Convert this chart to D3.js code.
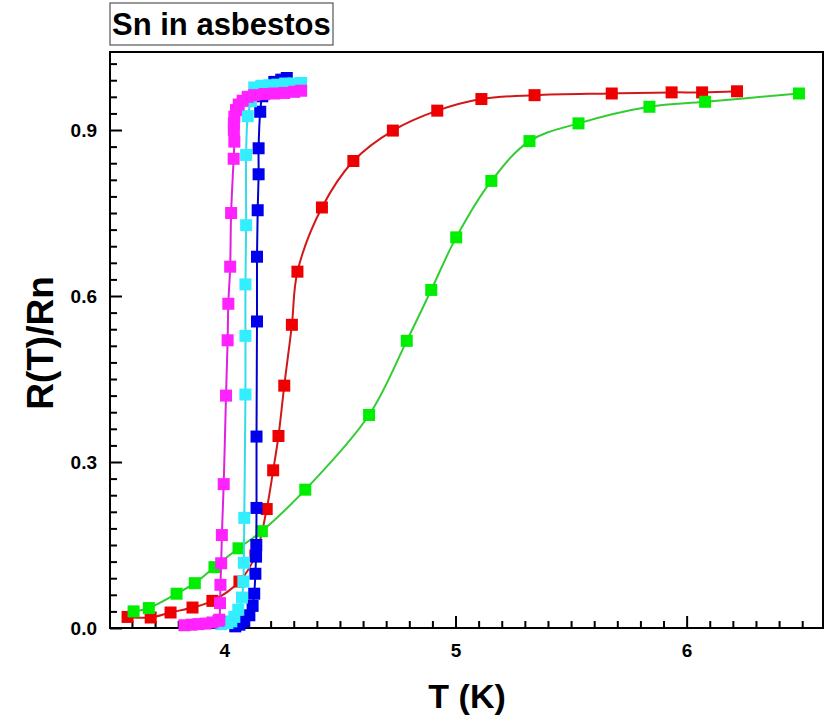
<!DOCTYPE html>
<html>
<head>
<meta charset="utf-8">
<script src="https://cdn.jsdelivr.net/npm/d3@7"></script>
<style>
  body { margin: 0; background: #fff; }
  svg text { font-family: "Liberation Sans", Arial, sans-serif; font-weight: bold; }
</style>
</head>
<body>
<svg id="chart" width="828" height="719"></svg>
<script>
// --- data: temperature (K) and R(T)/Rn per sample ---
const redT = [3.581,3.681,3.767,3.862,3.948,4.065,4.134,4.183,4.211,4.234,4.259,4.292,4.316,4.422,4.558,4.729,4.921,5.112,5.342,5.676,5.935,6.067,6.218];
const redR = [0.020,0.019,0.028,0.037,0.049,0.084,0.131,0.215,0.285,0.347,0.438,0.548,0.644,0.760,0.844,0.899,0.935,0.956,0.963,0.966,0.968,0.968,0.970];

const greenT = [3.607,3.673,3.793,3.872,3.957,4.061,4.162,4.350,4.626,4.789,4.895,5.003,5.155,5.320,5.532,5.839,6.080,6.486];
const greenR = [0.030,0.036,0.062,0.081,0.110,0.144,0.175,0.250,0.385,0.519,0.611,0.706,0.808,0.880,0.912,0.942,0.951,0.966];

const blueT = [4.047,4.065,4.086,4.108,4.122,4.129,4.134,4.137,4.138,4.139,4.139,4.141,4.141,4.144,4.148,4.148,4.155,4.164,4.186,4.216,4.246,4.270];
const blueR = [0.003,0.006,0.012,0.023,0.040,0.062,0.098,0.129,0.150,0.217,0.346,0.554,0.671,0.755,0.820,0.867,0.933,0.961,0.979,0.987,0.991,0.994];

const cyanT = [3.987,4.013,4.030,4.043,4.060,4.076,4.082,4.084,4.086,4.091,4.091,4.091,4.094,4.094,4.101,4.115,4.129,4.160,4.194,4.229,4.263,4.298,4.332];
const cyanR = [0.007,0.009,0.012,0.020,0.033,0.055,0.084,0.118,0.199,0.422,0.528,0.621,0.728,0.855,0.925,0.952,0.977,0.980,0.981,0.982,0.984,0.984,0.985];

const magentaT = [3.827,3.858,3.888,3.918,3.948,3.974,3.978,3.981,3.983,3.986,3.989,3.997,4.007,4.014,4.017,4.025,4.029,4.040,4.043,4.041,4.041,4.043,4.050,4.062,4.079,4.101,4.129,4.173,4.216,4.259,4.302,4.332];
const magentaR = [0.005,0.006,0.007,0.008,0.010,0.013,0.015,0.045,0.078,0.117,0.168,0.260,0.420,0.520,0.586,0.653,0.750,0.848,0.879,0.900,0.912,0.924,0.936,0.946,0.953,0.960,0.963,0.965,0.966,0.967,0.969,0.971];

const xMajorTicks = [4, 5, 6];
const yMajorTicks = [0, 0.3, 0.6, 0.9];
const yTickLabels = ["0.0", "0.3", "0.6", "0.9"];

const svg = d3.select("#chart");
const margin = {top: 52, right: 5, bottom: 91, left: 110},
      width = 828 - margin.left - margin.right,
      height = 719 - margin.top - margin.bottom;

const g = svg.append("g").attr("transform", `translate(${margin.left},${margin.top})`);

const x = d3.scaleLinear().domain([3.505, 6.59]).range([0, width]);
const y = d3.scaleLinear().domain([0, 1.041]).range([height, 0]);

// minor ticks every 0.1 K and every 0.03
const xMinor = d3.range(36, 66).map(d => d / 10).filter(d => !xMajorTicks.includes(d));
const yMinor = d3.range(1, 35).map(d => d * 0.03).filter(d => Math.abs(d - 0.3) > 1e-6 && Math.abs(d - 0.6) > 1e-6 && Math.abs(d - 0.9) > 1e-6);

g.append("g")
    .attr("transform", `translate(0,${height})`)
    .call(d3.axisBottom(x).tickValues(xMinor).tickSize(-7).tickFormat(""))
    .call(a => a.select(".domain").remove())
    .selectAll("line").attr("stroke", "#000").attr("stroke-width", 2);

g.append("g")
    .attr("transform", `translate(0,${height})`)
    .call(d3.axisBottom(x).tickValues(xMajorTicks).tickSize(-12).tickPadding(16).tickFormat(d3.format("d")))
    .call(a => a.select(".domain").remove())
    .call(a => a.selectAll("line").attr("stroke", "#000").attr("stroke-width", 2))
    .selectAll("text").attr("font-size", 19).attr("fill", "#000");

g.append("g")
    .call(d3.axisLeft(y).tickValues(yMinor).tickSize(-7).tickFormat(""))
    .call(a => a.select(".domain").remove())
    .selectAll("line").attr("stroke", "#000").attr("stroke-width", 2);

g.append("g")
    .call(d3.axisLeft(y).tickValues(yMajorTicks).tickSize(-12).tickPadding(13).tickFormat((d, i) => yTickLabels[i]))
    .call(a => a.select(".domain").remove())
    .call(a => a.selectAll("line").attr("stroke", "#000").attr("stroke-width", 2))
    .selectAll("text").attr("font-size", 19).attr("fill", "#000");

// frame
g.append("rect")
    .attr("width", width).attr("height", height)
    .attr("fill", "none").attr("stroke", "#000").attr("stroke-width", 2);

const series = [
  {T: redT, R: redR, line: "#d01818", fill: "#ee0000"},
  {T: greenT, R: greenR, line: "#33cc33", fill: "#00ee00"},
  {T: blueT, R: blueR, line: "#0000cc", fill: "#0000ee"},
  {T: cyanT, R: cyanR, line: "#30dde8", fill: "#33eeff"},
  {T: magentaT, R: magentaR, line: "#e020e0", fill: "#ff22ff"}
];

const line = d3.line()
    .x(d => x(d[0]))
    .y(d => y(d[1]))
    .curve(d3.curveCatmullRom.alpha(0.5));

const sq = 12;
series.forEach(s => {
  const pts = s.T.map((t, i) => [t, s.R[i]]);
  g.append("path")
      .datum(pts)
      .attr("fill", "none")
      .attr("stroke", s.line)
      .attr("stroke-width", 2)
      .attr("d", line);
  g.append("g").selectAll("rect")
    .data(pts)
    .enter().append("rect")
      .attr("x", d => x(d[0]) - sq / 2)
      .attr("y", d => y(d[1]) - sq / 2)
      .attr("width", sq)
      .attr("height", sq)
      .attr("fill", s.fill);
});

// axis titles
svg.append("text")
    .attr("x", margin.left + x(5.05))
    .attr("y", 708)
    .attr("text-anchor", "middle")
    .attr("font-size", 34)
    .text("T (K)");

svg.append("text")
    .attr("transform", `translate(53,${margin.top + y(0.515)}) rotate(-90)`)
    .attr("text-anchor", "middle")
    .attr("font-size", 37)
    .text("R(T)/Rn");

// title box
svg.append("rect")
    .attr("x", 110).attr("y", 3)
    .attr("width", 223).attr("height", 42)
    .attr("fill", "#fff").attr("stroke", "#555").attr("stroke-width", 1.2);
svg.append("text")
    .attr("x", 112).attr("y", 35)
    .attr("font-size", 31)
    .text("Sn in asbestos");
</script>
</body>
</html>
